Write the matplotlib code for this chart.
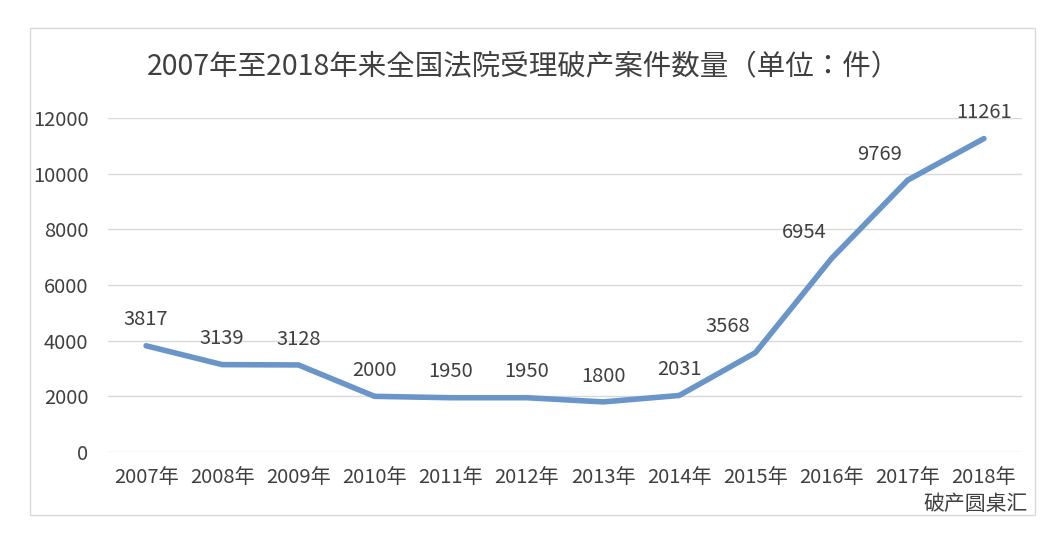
import matplotlib
matplotlib.use("Agg")
import matplotlib.pyplot as plt
from matplotlib.patches import Rectangle

plt.rcParams['font.family'] = ['Noto Sans CJK JP', 'Noto Sans CJK SC', 'DejaVu Sans']

years = ["2007年","2008年","2009年","2010年","2011年","2012年","2013年","2014年","2015年","2016年","2017年","2018年"]
values = [3817, 3139, 3128, 2000, 1950, 1950, 1800, 2031, 3568, 6954, 9769, 11261]
yticks = [0, 2000, 4000, 6000, 8000, 10000, 12000]
title = "2007年至2018年来全国法院受理破产案件数量（单位：件）"

fig = plt.figure(figsize=(10.62, 5.46), dpi=100)
fig.patches.append(Rectangle((30/1062, 1-515/546), 1005/1062, 487/546, transform=fig.transFigure,
                             fill=False, edgecolor='#d9d9d9', lw=1))
ax = fig.add_axes([108/1062, 1-452/546, 914/1062, 334/546])
x = list(range(len(years)))
ax.plot(x, values, color='#6a95c8', lw=4, solid_capstyle='round', solid_joinstyle='round')
ax.set_xlim(-0.5, 11.5)
ax.set_ylim(0, 12000)
ax.set_yticks(yticks)
ax.set_yticklabels([str(v) for v in yticks])
ax.set_xticks(x)
ax.set_xticklabels(years)
ax.grid(axis='y', color='#d9d9d9', lw=1)
ax.set_axisbelow(True)
for s in ax.spines.values():
    s.set_visible(False)
ax.tick_params(length=0, labelsize=14.5, colors='#404040')
ax.tick_params(axis='x', pad=11)
ax.tick_params(axis='y', pad=14)
for i, v in enumerate(values):
    dx = -20 if i in (8, 9, 10) else 0
    ax.annotate(str(v), (i, v), xytext=(dx, 11), textcoords='offset points',
                ha='center', va='bottom', fontsize=14.5, color='#404040')
fig.text(523/1062, 1-67/546, title, ha='center', va='center', fontsize=20.5, color='#404040')
fig.text(1028/1062, 1-504/546, "破产圆桌汇", ha='right', va='center', fontsize=15, color='#404040')
fig.savefig("out.png", dpi=100)
